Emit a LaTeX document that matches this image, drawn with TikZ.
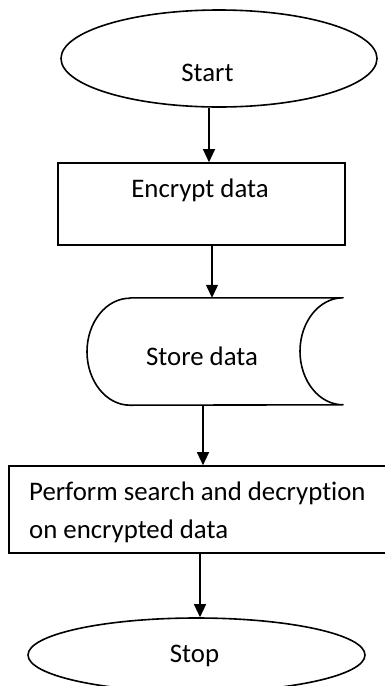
\documentclass[tikz,border=0pt]{standalone}
\usepackage{fontspec}
\setmainfont{Carlito}[Ligatures={NoCommon,NoContextual}]
\usetikzlibrary{shapes.geometric,arrows.meta}

\tikzset{
  outline/.style={draw=black, line width=1.6pt},
  flowarrow/.style={draw=black, line width=1.3pt,
    -{Triangle[length=13pt,width=12pt]}},
  terminal/.style={ellipse, outline, inner sep=0pt},
  procbox/.style={rectangle, outline, inner sep=0pt},
  caption/.style={font=\fontsize{26.8}{32}\selectfont, inner sep=0pt, text=black},
}

\begin{document}
\begin{tikzpicture}[x=1pt, y=-1pt]
  \useasboundingbox (0,0) rectangle (385,686);
  \clip (0,0) rectangle (385,686);
  \fill[white] (0,0) rectangle (385,686);

  % terminal: start
  \node[terminal, minimum width=316pt, minimum height=97pt] (start) at (219,58.5) {};
  \node[caption, anchor=base] (starttxt) at (207.5,81) {Start};

  % process: encryption
  \node[procbox, minimum width=287pt, minimum height=82pt] (enc) at (201.5,204) {};
  \node[caption, anchor=base] (enctxt) at (200,197) {Encrypt data};

  % stored-data symbol
  \node[inner sep=0pt, minimum width=256pt, minimum height=107pt] (store) at (215,351.5) {};
  \draw[outline, line join=round]
    ([xshift=-85pt]store.north) -- ([xshift=128pt]store.north)
    arc[start angle=90, end angle=270, x radius=43pt, y radius=53.5pt]
    -- ([xshift=-85pt]store.south)
    arc[start angle=270, end angle=90, x radius=43pt, y radius=53.5pt]
    -- cycle;
  \node[caption, anchor=base] (storetxt) at (202,365) {Store data};

  % process: search and decryption
  \node[procbox, minimum width=386pt, minimum height=87pt] (search) at (202,509.5) {};
  \node[caption, anchor=base west] (searchtxt1) at (29,500) {Perform search and decryption};
  \node[caption, anchor=base west] (searchtxt2) at (29,538) {on encrypted data};

  % terminal: stop
  \node[terminal, minimum width=337pt, minimum height=74pt] (stop) at (196.5,655) {};
  \node[caption, anchor=base] (stoptxt) at (194.5,662) {Stop};

  % connectors
  \draw[flowarrow] ([xshift=-10pt]start.south) -- ([xshift=7.5pt]enc.north);
  \draw[flowarrow] ([xshift=10.5pt]enc.south) -- ([xshift=-3pt]store.north);
  \draw[flowarrow] ([xshift=-12pt]store.south) -- ([xshift=1pt]search.north);
  \draw[flowarrow] ([xshift=-2pt]search.south) -- ([xshift=3.5pt]stop.north);
\end{tikzpicture}
\end{document}
